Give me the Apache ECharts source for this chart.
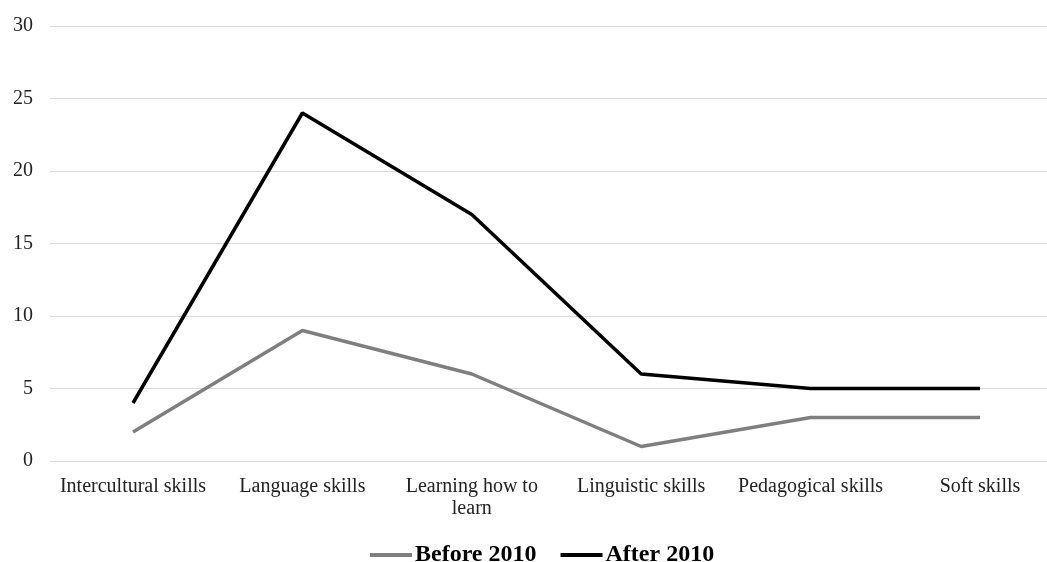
<!DOCTYPE html>
<html>
<head>
<meta charset="utf-8">
<script src="https://cdn.jsdelivr.net/npm/echarts@6/dist/echarts.min.js"></script>
<style>
  html, body { margin: 0; padding: 0; background: #fff; }
  #chart-container { width: 1047px; height: 562px; }
</style>
</head>
<body>
<div id="chart-container"></div>
<script>
var dom = document.getElementById('chart-container');
var myChart = echarts.init(dom, null, { renderer: 'canvas' });

const categories = ['Intercultural skills', 'Language skills', 'Learning how to\nlearn', 'Linguistic skills', 'Pedagogical skills', 'Soft skills'];
const before2010 = [2, 9, 6, 1, 3, 3];
const after2010 = [4, 24, 17, 6, 5, 5];
const yMin = 0, yMax = 30, yStep = 5;

const font = '"Liberation Serif", "Times New Roman", serif';

var option = {
  textStyle: { fontFamily: font },
  // grid 0: background gridlines + y labels across full width
  // grid 1: the data, points placed like the (right-cropped) original
  grid: [
    { left: 50, right: 0, top: 26, bottom: 101 },
    { left: 133, right: 67, top: 26, bottom: 101 },
  ],
  legend: {
    top: 538,
    left: 365,
    icon: 'rect',
    itemWidth: 42,
    itemHeight: 4,
    itemGap: 24,
    textStyle: { fontFamily: font, fontSize: 24, fontWeight: 'bold', color: '#000', padding: [0, 0, 0, -2] },
    data: ['Before 2010', 'After 2010'],
  },
  xAxis: [
    { type: 'value', gridIndex: 0, show: false },
    {
      type: 'category',
      gridIndex: 1,
      data: categories,
      boundaryGap: false,
      axisLine: { show: false },
      axisTick: { show: false },
      axisLabel: { fontFamily: font, fontSize: 20, color: '#222', margin: 15, lineHeight: 22, interval: 0 },
    },
  ],
  yAxis: [
    {
      type: 'value',
      gridIndex: 0,
      min: yMin,
      max: yMax,
      interval: yStep,
      axisLine: { show: false },
      axisTick: { show: false },
      splitLine: { lineStyle: { color: '#d9d9d9', width: 1 } },
      axisLabel: { fontFamily: font, fontSize: 20, color: '#222', margin: 17 },
    },
    {
      type: 'value',
      gridIndex: 1,
      min: yMin,
      max: yMax,
      interval: yStep,
      show: false,
      splitLine: { show: false },
    },
  ],
  series: [
    {
      name: 'Before 2010',
      type: 'line',
      xAxisIndex: 1,
      yAxisIndex: 1,
      data: before2010,
      symbol: 'none',
      lineStyle: { color: '#7f7f7f', width: 3.5 },
      itemStyle: { color: '#7f7f7f' },
    },
    {
      name: 'After 2010',
      type: 'line',
      xAxisIndex: 1,
      yAxisIndex: 1,
      data: after2010,
      symbol: 'none',
      lineStyle: { color: '#000', width: 3.5 },
      itemStyle: { color: '#000' },
    },
  ],
};

myChart.setOption(option);
window.addEventListener('resize', myChart.resize);
</script>
</body>
</html>
